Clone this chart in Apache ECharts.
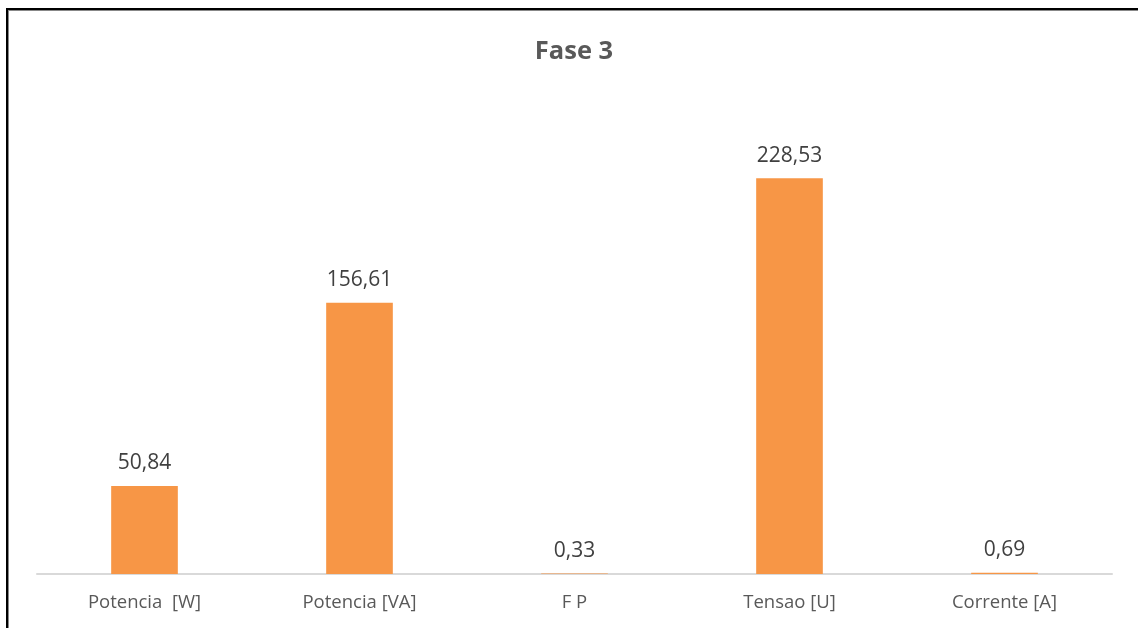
<!DOCTYPE html>
<html>
<head>
<meta charset="utf-8">
<script src="https://cdn.jsdelivr.net/npm/echarts@6/dist/echarts.min.js"></script>
<style>
  html, body { margin: 0; padding: 0; background: #fff; }
  #wrap { position: relative; width: 1138px; height: 628px; overflow: hidden; }
  #frame { position: absolute; left: 6px; top: 8px; width: 1200px; height: 700px;
           border-left: 2px solid #000; border-top: 2px solid #000;
           box-shadow: inset 1px 1px 0 #888; }
  #chart { position: absolute; left: 0; top: 0; width: 1138px; height: 628px; }
</style>
</head>
<body>
<div id="wrap">
  <div id="frame"></div>
  <div id="chart"></div>
</div>
<script>
// Measured quantities for phase 3
const categories = ['Potencia  [W]', 'Potencia [VA]', 'F P', 'Tensao [U]', 'Corrente [A]'];
const values = [50.84, 156.61, 0.33, 228.53, 0.69];

const chart = echarts.init(document.getElementById('chart'), null, { renderer: 'canvas' });
const font = '"Open Sans", "Noto Sans", sans-serif';

chart.setOption({
  animation: false,
  backgroundColor: 'transparent',
  title: {
    text: 'Fase 3',
    left: 569,
    textAlign: 'center',
    top: 34,
    textStyle: { fontFamily: font, fontSize: 25.5, fontWeight: 'bold', color: '#595959' }
  },
  grid: { left: 37, right: 26, top: 141, bottom: 54, containLabel: false },
  xAxis: {
    type: 'category',
    data: categories,
    axisLine: { lineStyle: { color: '#D9D9D9', width: 2 } },
    axisTick: { show: false },
    axisLabel: { fontFamily: font, fontSize: 18.5, color: '#595959', margin: 19 }
  },
  yAxis: {
    type: 'value',
    min: 0,
    max: 250,
    show: false,
    splitLine: { show: false }
  },
  series: [{
    type: 'bar',
    data: values,
    barWidth: '31%',
    itemStyle: { color: '#F79646' },
    label: {
      show: true,
      position: 'top',
      distance: 12,
      fontFamily: font,
      fontSize: 21,
      color: '#404040',
      formatter: p => p.value.toFixed(2).replace('.', ',')
    }
  }]
});
</script>
</body>
</html>
